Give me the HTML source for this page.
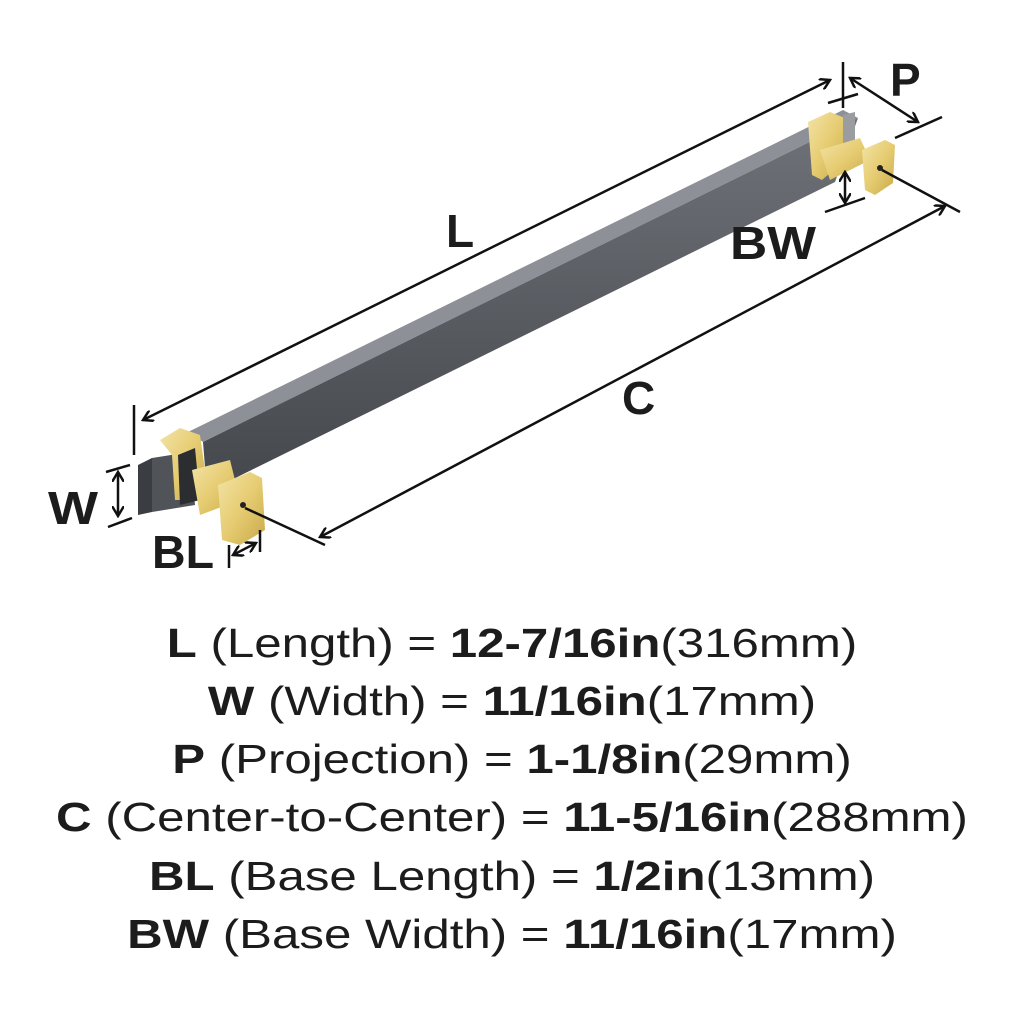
<!DOCTYPE html>
<html><head><style>
body{margin:0;background:#fff;width:1024px;height:1024px;overflow:hidden;font-family:"Liberation Sans",sans-serif;}
.t{position:absolute;left:0;width:1024px;text-align:center;font-size:41px;color:#1c1c1c;transform:scaleX(1.2);transform-origin:512px 0;}
b{font-weight:bold}
</style></head><body>
<svg width="1024" height="1024" style="position:absolute;left:0;top:0">
<defs>
<linearGradient id="g1" x1="0" y1="0" x2="0" y2="1"><stop offset="0" stop-color="#6f7278"/><stop offset="1" stop-color="#44474c"/></linearGradient>
<linearGradient id="gold" x1="0" y1="0" x2="1" y2="1"><stop offset="0" stop-color="#f3e3a6"/><stop offset="0.5" stop-color="#e6cc72"/><stop offset="1" stop-color="#c9a94a"/></linearGradient>
<marker id="a" markerWidth="12" markerHeight="12" refX="10" refY="6" orient="auto-start-reverse" markerUnits="userSpaceOnUse"><path d="M0,0 L10,6 L0,12" fill="none" stroke="#111" stroke-width="2.5"/></marker>
</defs>
<polygon points="188,432 843,110 858,118 203,442" fill="#8d9096"/>
<polygon points="203,442 858,118 835,182 207,492" fill="url(#g1)"/>
<polygon points="138,465 152,458 152,512 138,515" fill="#3a3d42"/>
<polygon points="152,458 190,452 195,505 152,512" fill="#505358"/>
<polygon points="160,440 180,428 200,435 205,470 190,500 175,500 172,455" fill="url(#gold)"/>
<polygon points="178,455 195,448 200,500 180,505" fill="#2b2d30"/>
<polygon points="192,470 230,460 240,500 200,515" fill="url(#gold)"/>
<polygon points="218,485 250,472 262,478 265,530 240,545 222,540" fill="url(#gold)"/>
<circle cx="243" cy="505" r="3" fill="#222"/>
<polygon points="808,122 830,112 845,118 845,160 822,180 812,175" fill="url(#gold)"/>
<polygon points="843,115 855,112 855,155 843,160" fill="#9a9ca0"/>
<polygon points="820,150 860,138 870,160 830,180" fill="url(#gold)"/>
<polygon points="862,150 885,140 895,145 893,183 875,195 865,190" fill="url(#gold)"/>
<circle cx="880" cy="168" r="3" fill="#222"/>
<g stroke="#111" stroke-width="2.5" fill="none">
<line x1="143" y1="420" x2="830" y2="80" marker-start="url(#a)" marker-end="url(#a)"/>
<line x1="134" y1="405" x2="134" y2="455"/>
<line x1="843" y1="62" x2="843" y2="108"/>
<line x1="320" y1="537" x2="945" y2="206" marker-start="url(#a)" marker-end="url(#a)"/>
<line x1="245" y1="508" x2="325" y2="545"/>
<line x1="882" y1="170" x2="960" y2="212"/>
<line x1="850" y1="78" x2="918" y2="122" marker-start="url(#a)" marker-end="url(#a)"/>
<line x1="895" y1="138" x2="942" y2="117"/>
<line x1="828" y1="103" x2="858" y2="94"/>
<line x1="118" y1="472" x2="118" y2="516" marker-start="url(#a)" marker-end="url(#a)"/>
<line x1="106" y1="472" x2="130" y2="465"/>
<line x1="108" y1="527" x2="132" y2="518"/>
<line x1="845" y1="172" x2="845" y2="203" marker-start="url(#a)" marker-end="url(#a)"/>
<line x1="825" y1="212" x2="865" y2="198"/>
<line x1="233" y1="555" x2="256" y2="543" marker-start="url(#a)" marker-end="url(#a)"/>
<line x1="229" y1="545" x2="229" y2="568"/>
<line x1="260" y1="530" x2="260" y2="552"/>
</g>
<g font-family="Liberation Sans,sans-serif" font-size="46" font-weight="bold" fill="#1c1c1c">
<text x="446" y="247">L</text>
<text x="622" y="414">C</text>
<text x="48" y="524" textLength="50" lengthAdjust="spacingAndGlyphs">W</text>
<text x="152" y="568" textLength="62" lengthAdjust="spacingAndGlyphs">BL</text>
<text x="730" y="259" textLength="86" lengthAdjust="spacingAndGlyphs">BW</text>
<text x="890" y="96">P</text>
</g>
</svg>
<div class="t" style="top:620px"><b>L</b> (Length) = <b>12-7/16in</b>(316mm)</div>
<div class="t" style="top:678px"><b>W</b> (Width) = <b>11/16in</b>(17mm)</div>
<div class="t" style="top:736px"><b>P</b> (Projection) = <b>1-1/8in</b>(29mm)</div>
<div class="t" style="top:794px"><b>C</b> (Center-to-Center) = <b>11-5/16in</b>(288mm)</div>
<div class="t" style="top:853px"><b>BL</b> (Base Length) = <b>1/2in</b>(13mm)</div>
<div class="t" style="top:911px"><b>BW</b> (Base Width) = <b>11/16in</b>(17mm)</div>
</body></html>
